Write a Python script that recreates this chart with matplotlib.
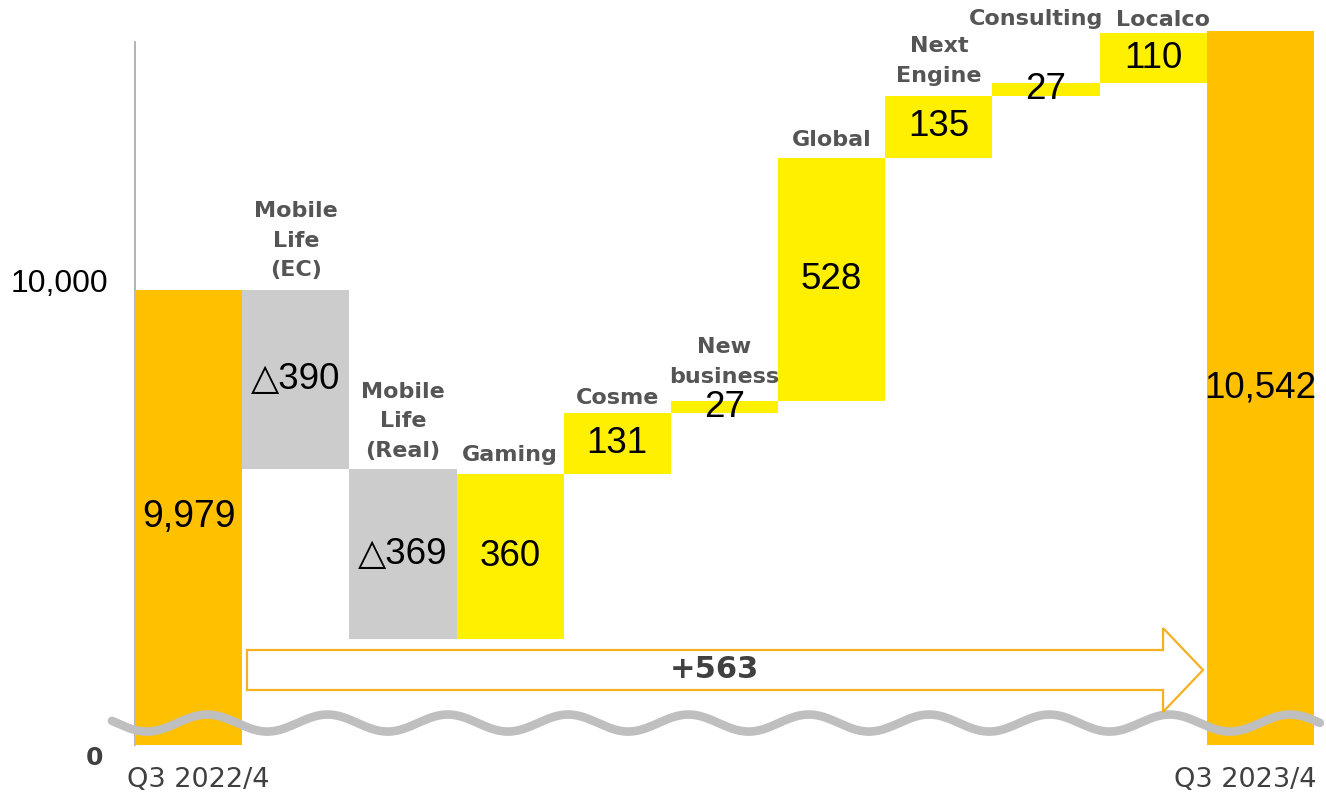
import numpy as np
import matplotlib
matplotlib.use("Agg")
import matplotlib.pyplot as plt
from matplotlib.patches import Polygon
import matplotlib.transforms as mtransforms

# ---------------- data ----------------
start_label = "Q3 2022/4"
end_label = "Q3 2023/4"
start_value = 9979
end_value = 10542
categories = ["Mobile\nLife\n(EC)", "Mobile\nLife\n(Real)", "Gaming", "Cosme",
              "New\nbusiness", "Global", "Next\nEngine", "Consulting", "Localco"]
changes = [-390, -369, 360, 131, 27, 528, 135, 27, 110]
ytick_values = [10000]
ytick_labels = ["10,000"]

# ---------------- style ----------------
C_TOTAL = "#FFC000"
C_UP = "#FFF000"
C_DOWN = "#CCCCCC"
C_LABEL = "#555555"
C_DARK = "#404040"
C_ARROW = "#F5B120"
C_WAVE = "#BFBFBF"
label_offsets_pt = [(0, 7), (0, 6), (0, 6), (0, 4), (0, 10), (0, 6), (0, 7), (-7, 39), (7, 2)]
Y_LOW, Y_HIGH = 8990, 10545
NUM_FONT = ["Liberation Sans", "DejaVu Sans"]

fig = plt.figure(figsize=(13.26, 7.98), dpi=100)
ax = fig.add_axes([0.1018, 0.0664, 0.8891, 0.8966])

n = len(changes)
xs = np.arange(n + 2)

# totals
ax.bar(xs[0], start_value, width=1.0, color=C_TOTAL, zorder=2)
ax.bar(xs[-1], end_value, width=1.0, color=C_TOTAL, zorder=2)

def centre(lo, hi):
    return (max(lo, Y_LOW) + hi) / 2

ax.text(xs[0], centre(0, start_value), f"{start_value:,}", ha="center", va="center",
        fontsize=27, family=NUM_FONT, color="black", zorder=5)
ax.text(xs[-1], centre(0, end_value), f"{end_value:,}", ha="center", va="center",
        fontsize=26.5, family=NUM_FONT, color="black", zorder=5)

level = start_value
for i, (cat, ch) in enumerate(zip(categories, changes)):
    x = xs[i + 1]
    lo, hi = min(level, level + ch), max(level, level + ch)
    ax.bar(x, hi - lo, bottom=lo, width=1.0, color=C_UP if ch >= 0 else C_DOWN, zorder=2)
    txt = f"{ch:,}" if ch >= 0 else f"\u25b3{-ch:,}"
    ax.text(x, (lo + hi) / 2, txt, ha="center", va="center", fontsize=26.5,
            family=NUM_FONT, color="black", zorder=5)
    ax.annotate(cat, xy=(x, hi), xytext=label_offsets_pt[i], textcoords="offset points",
                ha="center", va="bottom", fontsize=16, fontweight="bold", color=C_LABEL,
                linespacing=1.6, family="DejaVu Sans", zorder=5, annotation_clip=False,
                multialignment="center")
    level += ch

ax.set_xlim(-0.5, n + 1.5)
ax.set_ylim(Y_LOW, Y_HIGH)

# axes styling
for s in ["top", "right", "bottom"]:
    ax.spines[s].set_visible(False)
ax.spines["left"].set_color("#A6A6A6")
ax.spines["left"].set_linewidth(1.2)
ax.spines["left"].set_bounds(Y_LOW, 10518)
ax.spines["left"].set_zorder(1)

ax.set_yticks(ytick_values)
ax.set_yticklabels(ytick_labels, fontsize=23, family=NUM_FONT, color="black")
ax.tick_params(axis="y", length=0, pad=19)
ax.set_xticks([])

# period labels under the first and last bars
ax.annotate(start_label, xy=(xs[0] - 0.5, 0), xycoords=("data", "axes fraction"),
            xytext=(-6, -16), textcoords="offset points", ha="left", va="top",
            fontsize=19.5, color=C_DARK, annotation_clip=False)
ax.annotate(end_label, xy=(xs[-1] + 0.5, 0), xycoords=("data", "axes fraction"),
            xytext=(2, -16), textcoords="offset points", ha="right", va="top",
            fontsize=19.5, color=C_DARK, annotation_clip=False)

# "0" at the broken axis base
ax.annotate("0", xy=(0, 0), xycoords="axes fraction", xytext=(-23, -9),
            textcoords="offset points", ha="right", va="center", fontsize=18,
            fontweight="bold", color=C_DARK, annotation_clip=False)

# break wave (data x, axes y)
trans = mtransforms.blended_transform_factory(ax.transData, ax.transAxes)
wx = np.linspace(-0.715, 10.555, 800)
period = 1.1227
wy = 0.0307 - 0.0119 * np.cos(2 * np.pi * (wx + 0.388) / period)
ax.plot(wx, wy, transform=trans, color=C_WAVE, lw=6.2, solid_capstyle="round",
        zorder=6, clip_on=False)

# total-change arrow
x0 = xs[1] - 0.5 + 0.045
x_tip = xs[-1] - 0.5 - 0.035
x_head = x_tip - 0.373
b_lo, b_hi, h_lo, h_hi = 0.0769, 0.1328, 0.0461, 0.1635
ym = (b_lo + b_hi) / 2
arrow = Polygon([(x0, b_lo), (x_head, b_lo), (x_head, h_lo), (x_tip, ym),
                 (x_head, h_hi), (x_head, b_hi), (x0, b_hi)], closed=True,
                transform=trans, facecolor="white", edgecolor=C_ARROW, lw=1.6, zorder=7)
ax.add_patch(arrow)
ax.text((x0 + x_tip) / 2 - 0.1, ym, f"+{end_value - start_value:,}", transform=trans,
        ha="center", va="center", fontsize=22, fontweight="bold", color=C_DARK, zorder=8)

fig.savefig("out.png", dpi=100)
